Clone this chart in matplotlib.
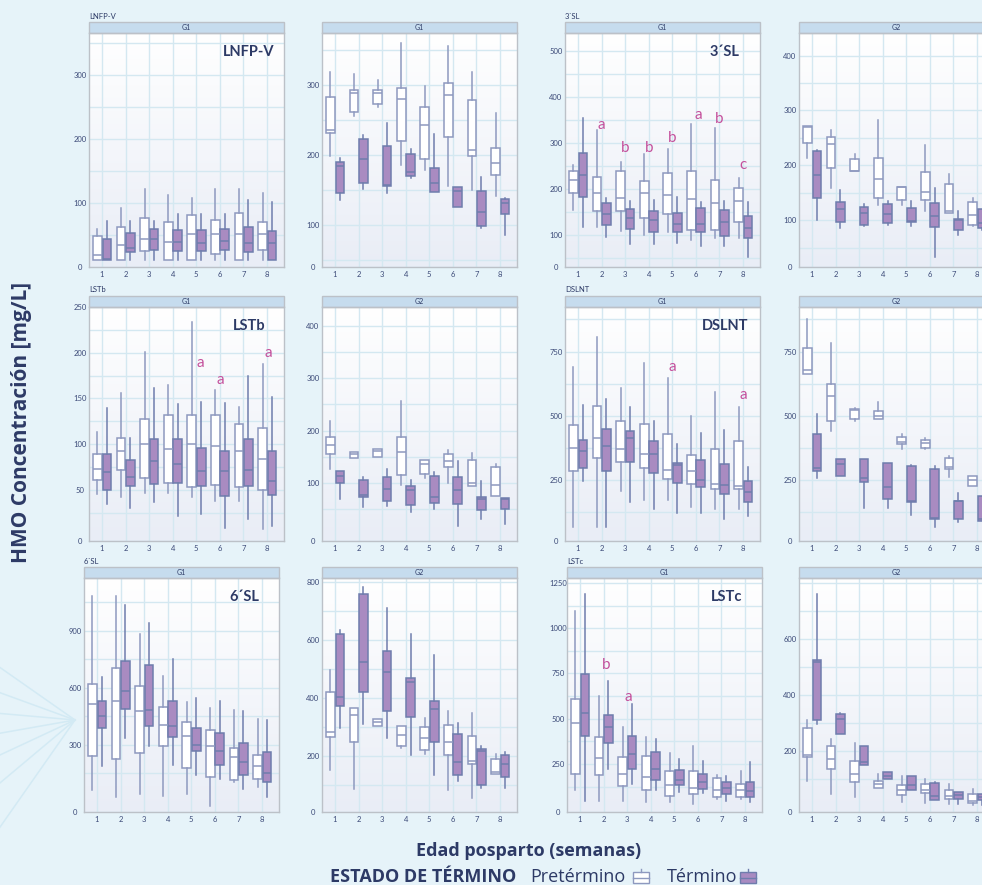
import numpy as np
import matplotlib.pyplot as plt
from matplotlib.patches import Rectangle
from matplotlib.lines import Line2D
from matplotlib.colors import LinearSegmentedColormap

plt.rcParams['font.family'] = ['Lato', 'DejaVu Sans']

weeks = [1, 2, 3, 4, 5, 6, 7, 8]

# cada tupla: (bigote inferior, q1, mediana, q3, bigote superior) por semana
lnfpv_g1_pre = [(11, 11, 19, 48, 59), (11, 11, 34, 62, 92), (11, 25, 44, 76, 122), (11, 11, 39, 70, 113),
                (11, 11, 51, 81, 108), (11, 21, 52, 73, 122), (11, 11, 52, 84, 122), (11, 26, 52, 70, 116)]
lnfpv_g1_term = [(11, 11, 12, 43, 72), (11, 23, 30, 53, 72), (11, 27, 44, 60, 72), (11, 25, 39, 57, 83),
                 (11, 25, 37, 57, 83), (11, 27, 41, 59, 83), (11, 24, 37, 63, 105), (11, 11, 37, 56, 101)]

lnfpv_g2_pre = [(198, 231, 236, 283, 319), (255, 261, 289, 293, 316), (268, 273, 289, 293, 307), (185, 220, 280, 295, 360),
                (178, 194, 242, 269, 299), (155, 225, 286, 302, 356), (150, 199, 207, 278, 319), (142, 171, 189, 210, 260)]
lnfpv_g2_term = [(136, 145, 184, 190, 195), (151, 160, 194, 223, 228), (145, 155, 157, 213, 245), (167, 170, 176, 201, 208),
                 (147, 147, 160, 182, 230), (126, 126, 148, 154, 154), (95, 98, 118, 149, 168), (86, 115, 132, 137, 138)]

sl3_g1_pre = [(154, 191, 220, 240, 252), (118, 152, 191, 227, 328), (109, 152, 180, 240, 258), (100, 138, 191, 218, 275),
              (106, 145, 188, 234, 286), (89, 111, 178, 239, 341), (94, 111, 170, 219, 332), (93, 129, 174, 203, 223)]
sl3_g1_term = [(118, 182, 230, 279, 354), (96, 123, 145, 169, 181), (80, 113, 138, 156, 174), (80, 106, 133, 153, 176),
               (82, 106, 124, 149, 182), (76, 106, 124, 158, 172), (76, 98, 128, 154, 174), (53, 94, 116, 142, 171)]
sl3_g1_letters = [(2, 339, 'a'), (3, 288, 'b'), (4, 288, 'b'), (5, 310, 'b'), (6.1, 361, 'a'), (7, 351, 'b'), (8, 252, 'c')]

sl3_g2_pre = [(213, 240, 270, 271, 272), (158, 195, 239, 252, 265), (190, 190, 190, 211, 220), (127, 141, 175, 213, 282),
              (127, 137, 160, 161, 161), (117, 137, 151, 188, 237), (114, 114, 117, 167, 184), (89, 92, 109, 134, 140)]
sl3_g2_term = [(101, 141, 182, 227, 228), (86, 97, 121, 134, 155), (89, 92, 114, 124, 130), (92, 95, 112, 129, 135),
               (89, 97, 99, 123, 135), (33, 88, 107, 132, 159), (73, 83, 100, 103, 117), (82, 86, 95, 120, 120)]

lstb_g1_pre = [(45, 61, 73, 89, 113), (42, 72, 93, 107, 156), (47, 63, 100, 128, 201), (47, 58, 95, 132, 165),
               (42, 53, 100, 132, 234), (38, 55, 98, 132, 159), (38, 53, 93, 122, 141), (7, 50, 84, 118, 188)]
lstb_g1_term = [(34, 50, 69, 89, 140), (30, 54, 64, 83, 107), (37, 56, 82, 106, 161), (21, 58, 78, 106, 144),
                (23, 54, 71, 96, 146), (8, 43, 71, 92, 145), (18, 54, 72, 106, 174), (10, 44, 60, 93, 151)]
lstb_g1_letters = [(5.15, 189, 'a'), (6, 170, 'a'), (8.05, 200, 'a')]

lstb_g2_pre = [(126, 155, 172, 187, 218), (148, 148, 154, 159, 159), (149, 149, 161, 165, 165), (95, 115, 159, 187, 257),
               (108, 117, 135, 144, 144), (99, 130, 142, 155, 162), (94, 94, 100, 143, 157), (75, 75, 95, 130, 136)]
lstb_g2_term = [(68, 100, 112, 123, 123), (54, 73, 76, 105, 110), (55, 65, 87, 110, 126), (44, 58, 86, 94, 105),
                (49, 61, 73, 112, 121), (17, 59, 86, 110, 142), (31, 48, 68, 73, 104), (21, 49, 68, 71, 71)]

dslnt_g1_pre = [(67, 284, 376, 466, 689), (67, 338, 415, 537, 805), (209, 322, 372, 479, 608), (174, 298, 353, 470, 705),
                (174, 256, 289, 428, 647), (148, 237, 284, 348, 499), (140, 215, 237, 372, 593), (140, 215, 228, 402, 533)]
dslnt_g1_term = [(247, 299, 363, 406, 541), (67, 284, 383, 451, 566), (166, 321, 415, 441, 535), (140, 280, 353, 402, 482),
                 (122, 241, 308, 318, 389), (121, 222, 250, 329, 434), (99, 198, 231, 314, 445), (110, 166, 206, 247, 302)]
dslnt_g1_letters = [(5, 689, 'a'), (8, 582, 'a')]

dslnt_g2_pre = [(662, 662, 679, 763, 875), (443, 479, 576, 624, 785), (479, 488, 524, 528, 531), (488, 488, 499, 518, 554),
                (372, 389, 398, 419, 428), (370, 376, 393, 406, 415), (263, 293, 302, 338, 344), (228, 228, 250, 267, 267)]
dslnt_g2_term = [(260, 284, 296, 428, 508), (267, 267, 314, 334, 334), (142, 245, 260, 331, 331), (142, 177, 222, 316, 318),
                 (115, 166, 170, 305, 308), (67, 99, 102, 293, 305), (86, 99, 168, 170, 202), (93, 93, 99, 187, 187)]

sl6_g1_pre = [(63, 239, 514, 619, 1084), (25, 226, 532, 704, 1084), (40, 256, 479, 607, 882), (28, 291, 405, 496, 660),
              (40, 177, 344, 418, 525), (-25, 130, 295, 375, 493), (102, 116, 235, 282, 484), (77, 119, 189, 247, 435)]
sl6_g1_term = [(186, 388, 453, 532, 656), (335, 489, 581, 739, 1037), (295, 396, 484, 718, 940), (191, 340, 396, 532, 751),
               (139, 265, 296, 388, 546), (121, 195, 265, 361, 528), (67, 142, 209, 309, 475), (25, 102, 151, 260, 432)]

sl6_g2_pre = [(151, 265, 282, 421, 498), (84, 246, 342, 365, 365), (302, 302, 316, 327, 328), (227, 232, 273, 302, 302),
              (206, 221, 261, 299, 331), (80, 201, 246, 305, 354), (53, 171, 180, 267, 348), (138, 138, 142, 188, 206)]
sl6_g2_term = [(296, 371, 403, 620, 635), (308, 421, 525, 761, 785), (261, 356, 490, 564, 712), (203, 333, 455, 469, 620),
               (134, 246, 363, 388, 550), (111, 134, 177, 276, 313), (88, 97, 215, 223, 232), (88, 126, 171, 203, 213)]

lstc_g1_pre = [(103, 195, 478, 608, 1096), (46, 186, 281, 401, 627), (46, 129, 195, 290, 452), (37, 103, 180, 296, 397),
               (37, 75, 134, 208, 309), (28, 83, 119, 208, 349), (55, 66, 107, 171, 189), (55, 66, 107, 138, 213)]
lstc_g1_term = [(46, 406, 529, 746, 1191), (222, 368, 452, 520, 708), (138, 222, 303, 406, 581), (103, 162, 222, 314, 386),
                (94, 134, 162, 217, 278), (88, 112, 149, 195, 268), (46, 85, 116, 149, 184), (42, 66, 101, 149, 263)]
lstc_g1_letters = [(2.12, 796, 'b'), (3.07, 621, 'a')]

lstc_g2_pre = [(93, 180, 185, 283, 313), (48, 138, 173, 218, 242), (37, 90, 117, 164, 230), (69, 69, 83, 95, 120),
               (19, 45, 60, 81, 111), (15, 51, 63, 83, 101), (12, 30, 39, 60, 83), (7, 15, 24, 48, 65)]
lstc_g2_term = [(298, 310, 519, 527, 762), (260, 260, 315, 333, 335), (149, 149, 162, 220, 220), (102, 102, 111, 126, 126),
                (61, 61, 81, 111, 111), (27, 27, 40, 87, 89), (12, 30, 45, 55, 55), (7, 27, 36, 48, 48)]

# colores
bg = '#e6f3f9'
navy = '#2d3a66'
tick_col = '#3c4a78'
strip_fill = '#c6dcee'
frame_col = '#bcc1c8'
grid_col = '#d4e8f1'
edge_col = '#6f7dad'
edge_light = '#8e99bf'
purple = '#a98bc1'
pink = '#c4509c'
title_font = ['Open Sans', 'DejaVu Sans']

W, H = 982, 885
fig = plt.figure(figsize=(W / 100, H / 100), dpi=100, facecolor=bg)

# rayos decorativos del fondo
for ang in np.linspace(145, 235, 7):
    a = np.deg2rad(ang)
    x0, y0 = 75, 720
    x1, y1 = x0 + 200 * np.cos(a), y0 - 200 * np.sin(a)
    fig.add_artist(Line2D([x0 / W, x1 / W], [1 - y0 / H, 1 - y1 / H], color='#d3eaf4', lw=1.1, zorder=0))

grad_cmap = LinearSegmentedColormap.from_list('g', ['#ffffff', '#e9edf6'])

panels = [
    # fila, columna, pre, term, strip, nombre, ylim, ticks, paso, letras
    (0, 0, lnfpv_g1_pre, lnfpv_g1_term, 'G1', 'LNFP-V', (0, 365), [100, 200, 300], 100, []),
    (0, 1, lnfpv_g2_pre, lnfpv_g2_term, 'G1', None, (40, 374), [100, 200, 300], 100, []),
    (0, 2, sl3_g1_pre, sl3_g1_term, 'G1', '3´SL', (31, 538), [100, 200, 300, 400, 500], 100, sl3_g1_letters),
    (0, 3, sl3_g2_pre, sl3_g2_term, 'G2', None, (15, 441), [100, 200, 300, 400], 100, []),
    (1, 0, lstb_g1_pre, lstb_g1_term, 'G1', 'LSTb', (-6, 250), [50, 100, 150, 200, 250], 50, lstb_g1_letters),
    (1, 1, lstb_g2_pre, lstb_g2_term, 'G2', None, (-12, 437), [100, 200, 300, 400], 100, []),
    (1, 2, dslnt_g1_pre, dslnt_g1_term, 'G1', 'DSLNT', (14, 923), [250, 500, 750], 250, dslnt_g1_letters),
    (1, 3, dslnt_g2_pre, dslnt_g2_term, 'G2', None, (14, 923), [250, 500, 750], 250, []),
    (2, 0, sl6_g1_pre, sl6_g1_term, 'G1', '6´SL', (-54, 1177), [300, 600, 900], 300, []),
    (2, 1, sl6_g2_pre, sl6_g2_term, 'G2', None, (5, 815), [200, 400, 600, 800], 200, []),
    (2, 2, lstc_g1_pre, lstc_g1_term, 'G1', 'LSTc', (-16, 1278), [250, 500, 750, 1000, 1250], 250, lstc_g1_letters),
    (2, 3, lstc_g2_pre, lstc_g2_term, 'G2', None, (-17, 818), [200, 400, 600], 200, []),
]

row_tops = [33, 307, 578]
col_lefts = [[89, 322, 565, 799], [89, 322, 565, 799], [84, 322, 567, 799]]
pw, ph, strip_h = 195, 234, 11


def draw_boxes(ax, stats, offset, face, edge):
    bs = [dict(whislo=s[0], q1=s[1], med=s[2], q3=s[3], whishi=s[4]) for s in stats]
    ax.bxp(bs, positions=np.array(weeks) + offset, widths=0.37, patch_artist=True,
           showfliers=False, showcaps=False, manage_ticks=False,
           boxprops=dict(facecolor=face, edgecolor=edge, linewidth=1.1),
           medianprops=dict(color=edge, linewidth=1.1),
           whiskerprops=dict(color=edge, linewidth=1.1))


for row, col, pre, term, strip, name, ylim, ticks, step, letters in panels:
    left = col_lefts[row][col]
    top = row_tops[row]
    ax = fig.add_axes([left / W, 1 - (top + ph) / H, pw / W, ph / H])
    ax.imshow(np.linspace(0, 1, 256).reshape(-1, 1), cmap=grad_cmap, extent=[0, 1, 0, 1],
              transform=ax.transAxes, aspect='auto', zorder=0)

    draw_boxes(ax, pre, -0.19, 'white', edge_light)
    draw_boxes(ax, term, 0.21, purple, edge_col)

    ax.set_xlim(0.45, 8.72)
    ax.set_ylim(*ylim)
    ax.set_xticks(weeks)
    ax.set_xticklabels([str(w) for w in weeks])
    ax.set_yticks([ylim[0]] + ticks)
    ax.set_yticklabels(['0'] + [str(t) for t in ticks])
    ax.set_yticks(np.arange(step / 2, ylim[1], step / 2), minor=True)
    ax.grid(True, which='both', axis='y', color=grid_col, lw=1.0)
    ax.grid(True, which='major', axis='x', color=grid_col, lw=1.0)
    ax.set_axisbelow(True)
    ax.tick_params(which='both', length=0, labelsize=5.5, labelcolor=tick_col)
    ax.tick_params(axis='y', pad=6.5)
    ax.tick_params(axis='x', pad=3)
    for lbl in ax.get_yticklabels():
        lbl.set_horizontalalignment('center')
    for sp in ax.spines.values():
        sp.set_color(frame_col)
        sp.set_linewidth(1.0)

    # franja del facet
    ax.add_patch(Rectangle((0, 1), 1, strip_h / ph, transform=ax.transAxes, clip_on=False,
                           facecolor=strip_fill, edgecolor=frame_col, lw=1.0))
    ax.text(0.5, 1 + strip_h / ph / 2, strip, transform=ax.transAxes, ha='center', va='center',
            fontsize=5, color=navy)

    if name:
        ax.text(0, 1 + (strip_h + 6) / ph, name, transform=ax.transAxes, ha='left', va='center',
                fontsize=5.5, color=navy)
        ax.text(0.82, 0.919, name, transform=ax.transAxes, ha='center', va='center',
                fontsize=10.5, fontweight='bold', color=navy)
    for x, y, s in letters:
        ax.text(x, y, s, ha='center', va='center', fontsize=11, color=pink)

fig.text(22 / W, 1 - 422 / H, 'HMO Concentración [mg/L]', rotation=90, ha='center', va='center',
         fontsize=15, fontweight='bold', color=navy, family=title_font)
fig.text(529 / W, 1 - 851 / H, 'Edad posparto (semanas)', ha='center', va='center',
         fontsize=13, fontweight='bold', color=navy, family=title_font)

ly = 1 - 877 / H
fig.text(516 / W, ly, 'ESTADO DE TÉRMINO', ha='right', va='center', fontsize=13, fontweight='bold',
         color=navy, family=title_font)
fig.text(530 / W, ly, 'Pretérmino', ha='left', va='center', fontsize=13, color=navy, family=title_font)
fig.text(667 / W, ly, 'Término', ha='left', va='center', fontsize=13, color=navy, family=title_font)
for x0, face, edge in [(633, 'white', edge_light), (740, purple, edge_col)]:
    fig.add_artist(Rectangle((x0 / W, 1 - 883 / H), 16 / W, 11 / H, facecolor=face, edgecolor=edge, lw=1.0))
    fig.add_artist(Line2D([x0 / W, (x0 + 16) / W], [1 - 877.5 / H] * 2, color=edge, lw=1.0))
    fig.add_artist(Line2D([(x0 + 8) / W] * 2, [1 - 872 / H, 1 - 869 / H], color=edge, lw=1.0))

fig.savefig('out.png', dpi=100, facecolor=bg)
